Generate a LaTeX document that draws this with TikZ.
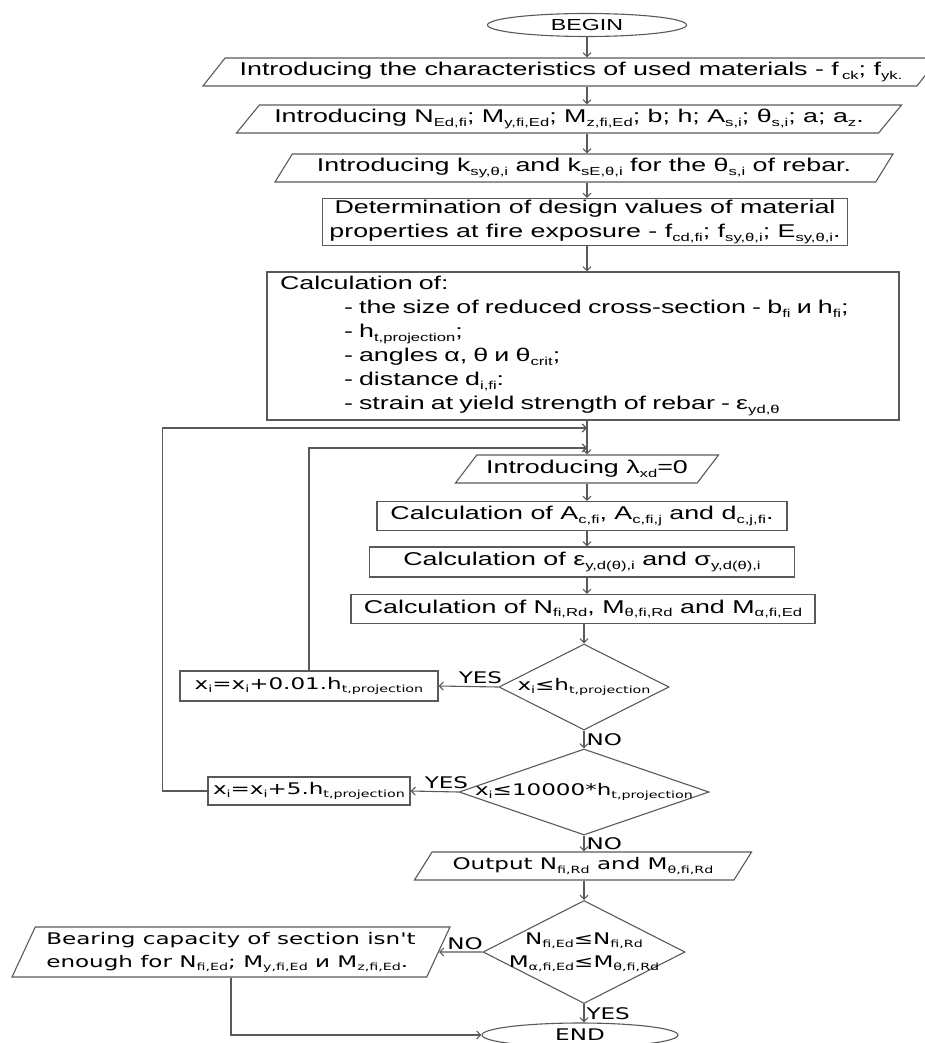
\documentclass[tikz,border=0pt]{standalone}
\usepackage{fontspec}
\setmainfont{Liberation Sans}
\newfontfamily\arialw[FakeStretch=1.45]{Liberation Sans}
\newfontfamily\tahw[FakeStretch=1.44]{DejaVu Sans}
\usetikzlibrary{shapes.geometric,arrows.meta}

\newcommand{\topfont}{\arialw\fontsize{18.5}{24}\selectfont}
\newcommand{\lowfont}{\tahw\fontsize{16}{23}\selectfont}
\newcommand{\sbs}[1]{\raisebox{-0.35ex}{\scalebox{0.62}{#1}}}

\tikzset{
  stroke/.style={draw=black!65, line width=1.1pt},
  arr/.style={stroke, -{Straight Barb[length=4pt,width=8pt]}},
  term/.style={ellipse, stroke, inner sep=0pt},
  proc/.style={rectangle, stroke, inner sep=0pt},
  io/.style={trapezium, trapezium stretches body, stroke, inner sep=0pt},
  dec/.style={diamond, stroke, inner sep=0pt},
  dtext/.style={font=\lowfont, inner sep=0pt, align=center},
  low/.style={font=\lowfont},
  lbl/.style={font=\lowfont, inner sep=2pt},
}

\begin{document}
\begin{tikzpicture}[x=1pt,y=-1pt,font=\topfont]
    \useasboundingbox (0,0) rectangle (924,1043);
    \coordinate (ax) at (587,0);

    % Input part
    \node[term, minimum width=199, minimum height=23, font=\arialw\fontsize{16}{18}\selectfont] (begin) at (587,25) {BEGIN};
    \node[io, trapezium left angle=41, trapezium right angle=139, minimum width=736, minimum height=28] (p1) at (571,72)
        {Introducing the characteristics of used materials - f\,\sbs{ck}; f\sbs{yk.}};
    \node[io, trapezium left angle=40, trapezium right angle=140, minimum width=665, minimum height=28] (p2) at (569,119)
        {Introducing N\sbs{Ed,fi}; M\sbs{y,fi,Ed}; M\sbs{z,fi,Ed}; b; h; A\sbs{s,i}; θ\sbs{s,i}; a; a\sbs{z}.};
    \node[io, trapezium left angle=48, trapezium right angle=132, minimum width=618, minimum height=28] (p3) at (584,168)
        {Introducing k\sbs{sy,θ,i} and k\sbs{sE,θ,i} for the θ\sbs{s,i} of rebar.};
    \node[proc, minimum width=525, minimum height=47, align=center] (r4) at (585,222)
        {Determination of design values of material\\properties at fire exposure - f\sbs{cd,fi}; f\sbs{sy,θ,i}; E\sbs{sy,θ,i}.};
    \node[proc, minimum width=632, minimum height=148, inner xsep=13pt, text width=606pt, align=left] (r5) at (583,346)
        {Calculation of:\\
        \hspace*{64pt}- the size of reduced cross-section - b\sbs{fi} и h\sbs{fi};\\
        \hspace*{64pt}- h\sbs{t,projection};\\
        \hspace*{64pt}- angles α, θ и θ\sbs{crit};\\
        \hspace*{64pt}- distance d\sbs{i,fi}:\\
        \hspace*{64pt}- strain at yield strength of rebar - ε\sbs{yd,θ}};

    % Loop body
    \node[io, trapezium left angle=39, trapezium right angle=141, minimum width=263, minimum height=28] (lam) at (587,469)
        {Introducing λ\sbs{xd}=0};
    \node[proc, minimum width=410, minimum height=29] (r6) at (582,516)
        {Calculation of A\sbs{c,fi}, A\sbs{c,fi,j} and d\sbs{c,j,fi}.};
    \node[proc, minimum width=425, minimum height=30] (r7) at (582,562)
        {Calculation of ε\sbs{y,d(θ),i} and σ\sbs{y,d(θ),i}};
    \node[proc, minimum width=464, minimum height=29] (r8) at (583,609)
        {Calculation of N\sbs{fi,Rd}, M\sbs{θ,fi,Rd} and M\sbs{α,fi,Ed}};

    % Checks
    \node[dec, minimum width=170, minimum height=86, label={[dtext]center:x\sbs{i}≤h\sbs{t,projection}}] (d1) at (584,687) {};
    \node[proc, low, minimum width=258, minimum height=30] (b1) at (309,686) {x\sbs{i}=x\sbs{i}+0.01.h\sbs{t,projection}};
    \node[dec, minimum width=250, minimum height=86, label={[dtext]center:x\sbs{i}≤10000*h\sbs{t,projection}}] (d2) at (584,792) {};
    \node[proc, low, minimum width=202, minimum height=28] (b2) at (309,791) {x\sbs{i}=x\sbs{i}+5.h\sbs{t,projection}};
    \node[io, low, trapezium left angle=43, trapezium right angle=137, minimum width=337, minimum height=28] (pout) at (583,866)
        {Output N\sbs{fi,Rd} and M\sbs{θ,fi,Rd}};
    \node[dec, minimum width=202, minimum height=103, label={[dtext]center:N\sbs{fi,Ed}≤N\sbs{fi,Rd}\\M\sbs{α,fi,Ed}≤M\sbs{θ,fi,Rd}}] (d3) at (584,952) {};
    \node[io, low, trapezium left angle=60, trapezium right angle=120, minimum width=438, minimum height=50, align=left] (pbear) at (231,952)
        {Bearing capacity of section isn't\\enough for N\sbs{fi,Ed}; M\sbs{y,fi,Ed} и M\sbs{z,fi,Ed}.};
    \node[term, low, minimum width=196, minimum height=24] (end) at (580,1035) {END};

    % Main line
    \coordinate (j1) at (587,428);
    \coordinate (j2) at (587,448);
    \draw[arr] (begin.south) -- (p1.north -| ax);
    \draw[arr] (p1.south -| ax) -- (p2.north -| ax);
    \draw[arr] (p2.south -| ax) -- (p3.north -| ax);
    \draw[arr] (p3.south -| ax) -- (r4.north -| ax);
    \draw[arr] (r4.south -| ax) -- (r5.north -| ax);
    \draw[arr] (r5.south -| ax) -- (lam.north -| ax);
    \draw[arr] (lam.south -| ax) -- (r6.north -| ax);
    \draw[arr] (r6.south -| ax) -- (r7.north -| ax);
    \draw[arr] (r7.south -| ax) -- (r8.north -| ax);
    \draw[arr] (r8.south -| d1) -- (d1.north);
    \draw[arr] (d1.south) -- node[lbl, right] {NO} (d2.north);
    \draw[arr] (d2.south) -- node[lbl, right] {NO} (d2.south |- pout.north);
    \draw[arr] (pout.south -| d3) -- (d3.north);
    \draw[arr] (d3.south) -- node[lbl, right] {YES} (d3.south |- end.north);

    % Branches and loops
    \draw[arr] (d1.west) -- node[lbl, above, pos=0.3] {YES} (b1.east);
    \draw[arr] (d2.west) -- node[lbl, above, pos=0.25] {YES} (b2.east);
    \draw[arr] (b1.north) |- (j2);
    \draw[arr] (b2.west) -- ++(-45,0) |- (j1);
    \draw[arr] (d3.west) -- node[lbl, above, pos=0.4] {NO} (pbear.east);
    \draw[arr] (pbear.south) |- (end.west);
\end{tikzpicture}
\end{document}
